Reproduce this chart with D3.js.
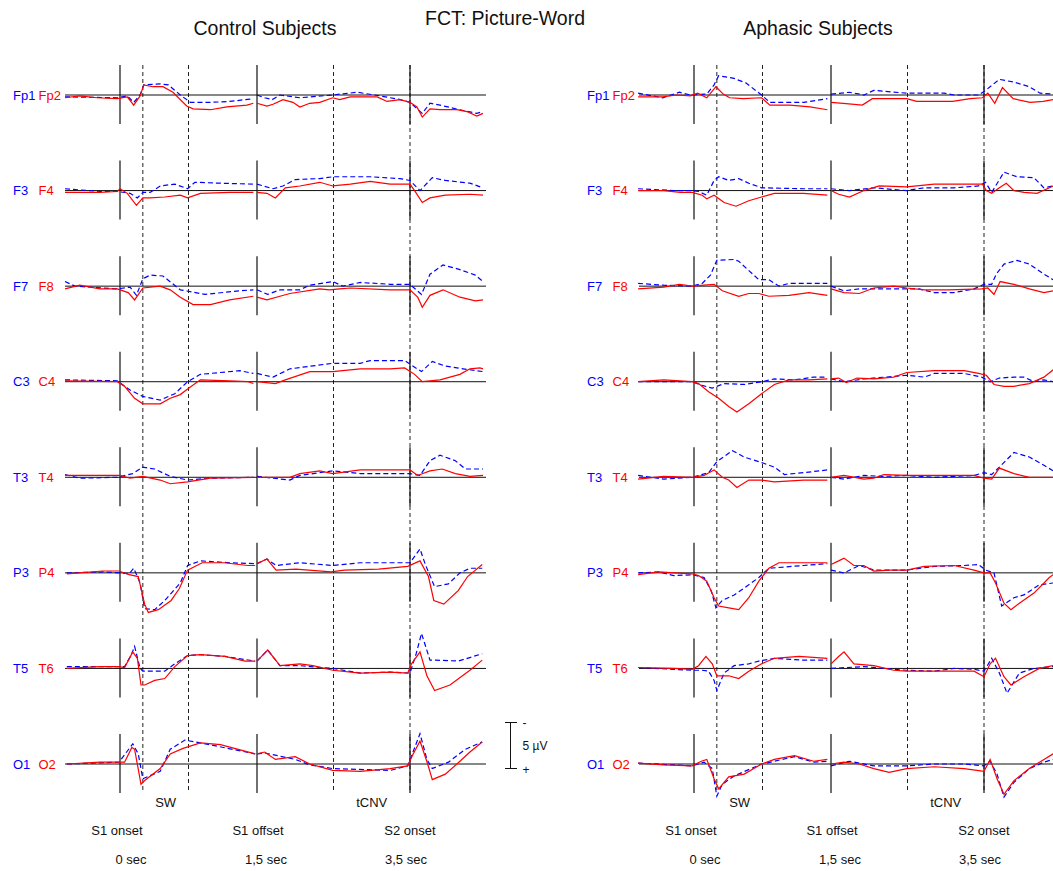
<!DOCTYPE html>
<html>
<head>
<meta charset="utf-8">
<script src="https://cdn.jsdelivr.net/npm/d3@7"></script>
<style>
  body { margin: 0; background: #fff; }
  text { font-family: "Liberation Sans", Arial, sans-serif; }
</style>
</head>
<body>
<div id="chart"></div>
<script>
// electrode pairs (left hemisphere = blue dashed, right = red solid)
const channels = [["Fp1", "Fp2"], ["F3", "F4"], ["F7", "F8"], ["C3", "C4"],
                  ["T3", "T4"], ["P3", "P4"], ["T5", "T6"], ["O1", "O2"]];

// event markers (seconds)
const solidEvents = [0, 1.5, 3.5];
const dashedEvents = [0.25, 0.75, 2.5, 3.5];
const windowLabels = [{t: 0.5, text: "SW"}, {t: 3.0, text: "tCNV"}];
const eventNames = ["S1 onset", "S1 offset", "S2 onset"];
const eventTimes = ["0 sec", "1,5 sec", "3,5 sec"];

// grand averages [time s, amplitude µV] - negative up
// Control subjects
const ctlFp1 = [[-0.6,0.2],[-0.03,0.3],[0.08,0.1],[0.15,0.8],[0.22,0],[0.26,-1.1],[0.44,-1.2],[0.53,-1.1],[0.66,0],[0.77,0.8],[0.99,0.8],[1.2,0.7],[1.46,0.4],
  [1.5,0],[1.6,0.3],[1.7,0.5],[1.8,0],[2.06,0.3],[2.49,0],[2.81,-0.3],[3.11,0.1],[3.37,0.5],[3.5,0.8],[3.66,2.0],[3.76,0.9],[3.89,1.1],[4.15,1.6],[4.37,2.0],[4.45,1.8]];
const ctlFp2 = [[-0.6,0.3],[-0.44,0.1],[-0.25,0.3],[-0.03,0.4],[0.08,0.2],[0.15,1.1],[0.22,0.1],[0.26,-1.1],[0.36,-0.9],[0.47,-0.9],[0.58,-0.3],[0.73,1.2],[0.8,1.5],[0.99,1.6],[1.17,1.3],[1.39,1.1],[1.46,0.9],
  [1.5,0.9],[1.63,1.2],[1.71,1.0],[1.84,0.5],[1.97,0.8],[2.06,1.3],[2.19,0.9],[2.32,0.8],[2.49,0.3],[2.58,0.5],[2.72,0.2],[3.07,0.2],[3.2,0.7],[3.37,0.5],[3.5,0.8],[3.59,1.3],[3.66,2.4],[3.76,1.5],[3.89,1.6],[4.11,1.6],[4.24,1.8],[4.37,2.3],[4.45,2.0]];
const ctlF3 = [[-0.6,-0.2],[-0.22,0.1],[-0.03,0.1],[0.11,0.3],[0.19,0.8],[0.25,0.2],[0.33,0.2],[0.44,-0.5],[0.6,-0.7],[0.74,-0.2],[0.82,-0.9],[1.1,-0.8],[1.46,-0.7],
  [1.5,-0.7],[1.71,-0.2],[1.84,-0.5],[2.0,-1.2],[2.32,-1.3],[2.49,-1.5],[2.98,-1.5],[3.37,-1.3],[3.5,-1.1],[3.63,0],[3.79,-1.4],[3.96,-1.1],[4.28,-0.8],[4.45,-0.3]];
const ctlF4 = [[-0.6,0.2],[-0.22,0.2],[-0.03,0.1],[0,-0.2],[0.08,0.3],[0.18,1.6],[0.25,0.8],[0.33,0.8],[0.49,0.7],[0.66,0.5],[0.74,0.8],[0.88,0.3],[1.2,0.2],[1.46,0.2],
  [1.5,0.2],[1.63,0.3],[1.74,0.8],[1.87,-0.3],[2.06,-0.5],[2.32,-0.9],[2.49,-0.5],[2.72,-0.7],[2.98,-1.0],[3.24,-0.7],[3.5,-0.7],[3.56,0],[3.66,1.3],[3.76,0.8],[3.96,0.5],[4.28,0.4],[4.45,0.5]];
const ctlF7 = [[-0.6,-0.5],[-0.49,0],[-0.03,0.3],[0.11,0.1],[0.18,1.0],[0.25,-0.8],[0.33,-1.2],[0.47,-1.1],[0.66,0.4],[0.93,0.9],[1.31,0.5],[1.46,0.4],
  [1.5,0.4],[1.64,0.9],[1.8,0.4],[2.06,0.4],[2.19,-0.1],[2.49,-0.5],[2.62,0],[2.85,-0.4],[3.24,-0.2],[3.5,-0.2],[3.65,0.9],[3.76,-1.3],[3.93,-2.3],[4.15,-1.8],[4.35,-1.2],[4.45,-0.5]];
const ctlF8 = [[-0.6,0.3],[-0.44,-0.1],[-0.22,0.3],[-0.03,0.3],[0.09,0.7],[0.16,1.5],[0.25,0.2],[0.44,0],[0.55,0.4],[0.66,1.2],[0.8,2.0],[0.99,2.0],[1.2,1.5],[1.46,1.1],
  [1.5,1.2],[1.63,1.5],[1.8,1.1],[1.93,0.8],[2.32,0.3],[2.45,0.4],[2.58,0.3],[2.72,0.2],[3.24,0.4],[3.5,0.4],[3.6,1.2],[3.66,2.3],[3.76,1.0],[3.93,0.4],[4.15,1.2],[4.35,1.6],[4.45,1.5]];
const ctlC3 = [[-0.6,-0.2],[-0.03,-0.1],[0.11,0.9],[0.25,1.6],[0.44,2.0],[0.6,1.3],[0.74,0],[0.88,-0.8],[1.31,-1.2],[1.46,-0.9],
  [1.5,-0.9],[1.71,-0.5],[1.93,-1.4],[2.49,-2.0],[2.85,-2.0],[2.98,-2.3],[3.43,-2.3],[3.52,-1.8],[3.65,-1.1],[3.79,-2.2],[3.96,-1.7],[4.19,-1.4],[4.45,-1.1]];
const ctlC4 = [[-0.6,-0.1],[-0.03,0],[0.05,0.5],[0.16,1.8],[0.25,2.4],[0.44,2.4],[0.55,1.8],[0.66,1.4],[0.74,0.8],[0.88,-0.2],[1.2,-0.1],[1.4,0],[1.46,0.2],
  [1.5,0],[1.74,0.2],[1.87,-0.2],[2.19,-1.1],[2.49,-1.1],[2.85,-1.4],[3.24,-1.4],[3.43,-1.5],[3.56,-0.8],[3.66,0],[3.89,-0.2],[4.15,-0.8],[4.28,-1.4],[4.41,-1.5],[4.45,-1.4]];
const ctlT3 = [[-0.6,-0.3],[-0.44,0.1],[-0.03,0],[0.14,-0.4],[0.25,-1.1],[0.38,-0.9],[0.55,-0.1],[0.74,0.3],[0.99,0.1],[1.46,0],
  [1.5,-0.1],[1.93,0.3],[2.06,-0.2],[2.49,-0.7],[2.85,-0.4],[3.5,-0.4],[3.63,-0.2],[3.76,-1.8],[3.89,-2.4],[4.09,-1.8],[4.22,-0.9],[4.45,-0.9]];
const ctlT4 = [[-0.6,-0.2],[0,-0.2],[0.11,0.1],[0.25,-0.1],[0.44,0.3],[0.55,0.7],[0.74,0.5],[0.99,0.1],[1.46,0],
  [1.5,0],[1.93,0],[2.06,-0.4],[2.32,-0.7],[2.49,-0.4],[2.85,-0.8],[3.5,-0.8],[3.6,-0.2],[3.76,-0.7],[3.92,-0.9],[4.09,-0.4],[4.28,-0.1],[4.45,-0.2]];
const ctlP3 = [[-0.58,0],[-0.19,-0.1],[-0.01,0],[0.1,0.1],[0.15,-0.5],[0.22,1.1],[0.27,3.9],[0.38,4.0],[0.49,3.0],[0.66,1.1],[0.74,-0.8],[0.88,-1.3],[1.2,-1.1],[1.48,-1.0],
  [1.5,-1.0],[1.63,-1.5],[1.75,-0.8],[2.06,-1.1],[2.49,-0.8],[2.85,-1.1],[3.5,-1.1],[3.63,-2.6],[3.7,-0.9],[3.82,1.5],[4.0,1.2],[4.15,0],[4.28,-0.5],[4.44,-0.5]];
const ctlP4 = [[-0.58,0.1],[-0.19,-0.2],[-0.01,-0.2],[0.1,0.2],[0.2,0.4],[0.27,3.4],[0.31,4.3],[0.42,4.0],[0.56,3.0],[0.65,1.7],[0.74,-0.3],[0.9,-1.1],[1.14,-1.1],[1.4,-0.8],[1.48,-0.8],
  [1.5,-1.0],[1.63,-1.5],[1.75,-0.3],[2.01,-0.4],[2.47,-0.1],[2.64,-0.3],[3.09,-0.4],[3.47,-0.7],[3.63,-1.3],[3.74,0.4],[3.81,3.0],[3.94,3.4],[4.13,1.9],[4.25,0.4],[4.44,-0.9]];
const ctlT5 = [[-0.58,-0.2],[-0.01,-0.2],[0.05,-0.2],[0.12,-1.4],[0.16,-2.4],[0.22,0],[0.25,0.3],[0.49,0.3],[0.6,-0.5],[0.74,-1.4],[0.88,-1.5],[1.15,-1.3],[1.48,-0.8],
  [1.5,-0.8],[1.64,-2.0],[1.8,-0.3],[2.06,-0.3],[2.49,0],[2.85,0.5],[3.24,0.4],[3.5,0.5],[3.58,-1.6],[3.65,-3.8],[3.76,-0.9],[3.84,-0.9],[4.13,-0.8],[4.44,-1.6]];
const ctlT6 = [[-0.58,0],[-0.22,-0.2],[-0.01,-0.2],[0.05,-0.1],[0.14,-1.8],[0.19,-1.1],[0.23,1.8],[0.27,1.8],[0.38,1.3],[0.49,1.1],[0.6,-0.2],[0.74,-1.4],[0.88,-1.5],[1.15,-1.3],[1.37,-0.8],[1.48,-0.8],
  [1.5,-0.8],[1.64,-2.0],[1.8,-0.3],[2.06,-0.5],[2.23,-0.3],[2.49,0.2],[2.85,0.5],[3.24,0.4],[3.47,0.5],[3.52,-0.5],[3.63,-1.8],[3.72,0.8],[3.82,2.4],[4.02,1.8],[4.28,0.2],[4.44,-0.9]];
const ctlO1 = [[-0.58,0],[-0.01,-0.2],[0.14,-2.2],[0.2,-1.1],[0.25,1.6],[0.44,0.8],[0.55,-1.6],[0.71,-2.6],[0.88,-2.3],[1.48,-1.1],
  [1.5,-1.1],[1.6,-1.2],[2.0,-0.5],[2.19,0.1],[2.49,0.5],[3.24,0.7],[3.47,0.2],[3.63,-3.3],[3.72,-0.5],[3.79,0.5],[4.0,-0.2],[4.22,-1.6],[4.44,-2.4]];
const ctlO2 = [[-0.58,0],[-0.22,-0.2],[-0.01,-0.2],[0.05,-0.2],[0.13,-1.8],[0.16,-1.6],[0.23,2.2],[0.27,1.8],[0.44,0.5],[0.55,-1.1],[0.69,-1.7],[0.88,-2.3],[1.1,-2.1],[1.48,-1.1],
  [1.5,-1.1],[1.6,-1.3],[1.74,-0.5],[2.0,-0.8],[2.19,0],[2.49,0.7],[2.85,0.8],[3.24,0.5],[3.47,0.2],[3.53,-0.9],[3.63,-2.5],[3.73,0],[3.79,1.7],[3.96,1.1],[4.15,-0.3],[4.28,-1.3],[4.44,-2.4]];

// Aphasic subjects
const aphFp1 = [[-0.61,-0.2],[-0.34,0.3],[-0.16,-0.3],[-0.04,0],[0.14,-0.1],[0.22,-1.1],[0.27,-2.1],[0.44,-1.8],[0.57,-1.3],[0.74,0],[0.83,0.8],[1.2,0.8],[1.46,0.4],
  [1.5,-0.1],[1.74,-0.3],[1.93,0],[2.06,-0.5],[2.49,-0.2],[2.98,-0.2],[3.11,0],[3.43,0],[3.52,-0.5],[3.7,-1.7],[3.89,-1.4],[4.09,-0.9],[4.23,-0.2],[4.4,-0.1]];
const aphFp2 = [[-0.61,0.2],[-0.34,0.2],[-0.19,0],[-0.04,0.1],[0.04,-0.2],[0.14,0.3],[0.24,-0.9],[0.32,-0.1],[0.39,0.3],[0.54,0.4],[0.74,0.3],[0.83,1.1],[1.05,1.1],[1.27,1.3],[1.46,1.6],
  [1.5,0.8],[1.66,0.9],[1.91,1.1],[2.04,0.4],[2.49,0.4],[2.62,0.7],[3.09,0.7],[3.32,0.4],[3.48,0.3],[3.55,-0.2],[3.64,0.9],[3.74,-0.8],[3.88,0.4],[4.1,0.8],[4.27,0.7],[4.4,0.5]];
const aphF3 = [[-0.61,-0.2],[-0.22,0],[-0.02,0],[0.05,0.1],[0.14,0.5],[0.22,-1.1],[0.27,-1.5],[0.38,-1.1],[0.49,-1.3],[0.6,-0.8],[0.74,-0.3],[1.2,-0.2],[1.46,-0.2],
  [1.5,-0.2],[1.74,0],[2.06,-0.3],[2.49,0],[2.72,-0.3],[3.11,-0.3],[3.43,-0.5],[3.52,-0.9],[3.6,0.2],[3.76,-2.0],[3.93,-1.5],[4.15,-1.4],[4.28,-0.3],[4.4,-0.5]];
const aphF4 = [[-0.61,0],[-0.33,0],[-0.15,0.2],[-0.02,0.2],[0.09,0.5],[0.14,0.9],[0.22,0.5],[0.33,1.3],[0.46,1.7],[0.6,1.1],[0.74,0.7],[0.88,0.3],[1.2,0.3],[1.46,0.5],
  [1.5,0],[1.6,0.4],[1.74,0.7],[1.93,0],[2.13,-0.5],[2.49,-0.4],[2.85,-0.7],[3.48,-0.7],[3.53,0],[3.6,0.3],[3.7,-0.3],[3.79,-0.8],[3.89,0],[4.02,0.2],[4.19,0.3],[4.4,-0.5]];
const aphF7 = [[-0.61,-0.3],[-0.33,-0.1],[-0.02,0],[0.09,-0.3],[0.18,-1.2],[0.25,-2.8],[0.44,-2.9],[0.49,-2.7],[0.71,-0.7],[0.82,-0.7],[0.93,0],[1.04,-0.3],[1.46,-0.3],
  [1.5,0],[1.67,0.5],[1.87,0.3],[2.49,0.3],[2.65,0.3],[2.85,0.7],[3.11,0.7],[3.37,0.3],[3.5,-0.2],[3.6,-0.2],[3.66,-1.3],[3.76,-2.4],[3.93,-2.8],[4.09,-2.4],[4.28,-1.3],[4.4,-0.7]];
const aphF8 = [[-0.61,0.3],[-0.33,0.1],[-0.16,-0.2],[-0.02,0],[0.11,-0.1],[0.22,-0.2],[0.31,0.5],[0.49,1.1],[0.6,0.8],[0.71,0.8],[0.82,1.1],[1.04,1.0],[1.26,0.7],[1.46,1.0],
  [1.5,0.3],[1.67,0.7],[1.87,0.8],[2.06,0.2],[2.32,0],[2.49,0.2],[2.72,0.4],[3.04,0.4],[3.47,0.3],[3.55,0.2],[3.63,0.9],[3.71,-0.5],[3.89,-0.2],[4.09,0.3],[4.28,0.7],[4.4,0.5]];
const aphC3 = [[-0.61,0],[-0.02,0],[0.09,0.4],[0.2,0.7],[0.33,0.2],[0.55,0.3],[0.74,0],[0.88,-0.3],[1.1,-0.2],[1.31,-0.5],[1.46,-0.5],
  [1.5,-0.3],[1.67,0],[1.93,-0.3],[2.49,-0.7],[2.72,-0.5],[2.85,-0.9],[3.24,-0.9],[3.47,-0.5],[3.58,0],[3.7,-0.4],[3.89,-0.5],[4.02,-0.5],[4.15,0],[4.28,-0.2],[4.4,0]];
const aphC4 = [[-0.61,0],[-0.33,-0.2],[-0.02,0],[0.05,0.2],[0.16,1.1],[0.27,1.8],[0.38,2.7],[0.47,3.3],[0.6,2.4],[0.74,1.3],[0.88,0.3],[1.04,-0.2],[1.26,-0.2],[1.46,-0.3],
  [1.5,-0.3],[1.6,-0.4],[1.7,0.1],[1.84,-0.4],[2.06,-0.3],[2.32,-0.5],[2.49,-1.0],[2.85,-1.2],[3.24,-1.2],[3.43,-0.9],[3.53,-0.7],[3.63,0.3],[3.76,0.5],[3.89,0.5],[4.09,0.2],[4.28,-0.5],[4.4,-1.3]];
const aphT3 = [[-0.61,-0.2],[-0.33,0.2],[-0.02,0],[0.16,-0.5],[0.25,-1.7],[0.42,-2.9],[0.55,-2.2],[0.74,-1.6],[0.88,-1.1],[0.99,-0.3],[1.2,-0.5],[1.46,-0.8],
  [1.5,0],[1.67,0.2],[1.93,-0.2],[2.19,-0.1],[2.49,-0.2],[2.85,0],[3.37,-0.2],[3.5,-0.5],[3.6,-0.3],[3.7,-1.1],[3.89,-2.7],[4.09,-2.2],[4.28,-1.3],[4.4,-0.7]];
const aphT4 = [[-0.61,0.2],[-0.33,-0.1],[-0.02,0],[0.11,-0.2],[0.22,-0.8],[0.31,0],[0.38,0.3],[0.47,1.1],[0.6,0.3],[0.74,0.3],[0.88,0.5],[1.2,0.3],[1.46,0.3],
  [1.5,0],[1.67,-0.2],[1.93,0.2],[2.06,0.1],[2.19,-0.3],[2.49,-0.2],[3.37,-0.2],[3.5,0.1],[3.6,0.2],[3.7,-1.0],[3.89,-0.4],[4.09,0],[4.4,0]];
const aphP3 = [[-0.61,0],[-0.38,-0.1],[-0.22,0.3],[-0.02,0.2],[0.11,0.5],[0.19,2.0],[0.24,3.8],[0.31,3.0],[0.44,2.4],[0.6,1.3],[0.71,0.5],[0.82,-0.5],[1.2,-0.8],[1.46,-1.0],
  [1.5,-0.3],[1.67,0],[1.87,-0.8],[2.06,-0.3],[2.49,-0.3],[2.85,-0.7],[3.24,-0.8],[3.43,-0.9],[3.52,-0.3],[3.63,0],[3.73,3.6],[3.89,2.7],[4.02,2.4],[4.22,1.3],[4.4,1.1]];
const aphP4 = [[-0.61,0.2],[-0.38,-0.1],[-0.22,0],[-0.02,0.1],[0.05,0.3],[0.14,0.9],[0.22,2.7],[0.27,3.6],[0.38,3.8],[0.49,4.0],[0.6,2.7],[0.71,0.9],[0.82,-0.5],[0.93,-1.1],[1.26,-1.1],[1.46,-1.1],
  [1.5,-0.9],[1.6,-1.3],[1.67,-1.6],[1.8,-0.8],[1.93,-0.8],[2.06,-0.2],[2.26,-0.3],[2.49,-0.3],[2.72,-0.7],[3.11,-0.8],[3.37,-0.3],[3.5,0],[3.58,0],[3.65,1.1],[3.76,3.3],[3.85,4.0],[3.96,3.3],[4.15,2.2],[4.35,0.5],[4.4,0.2]];
const aphT5 = [[-0.61,-0.1],[-0.22,0.1],[-0.02,0.2],[0.09,0.2],[0.16,0.3],[0.22,1.3],[0.25,2.4],[0.33,0.5],[0.44,-0.3],[0.6,-0.5],[0.71,-0.8],[0.88,-1.1],[1.2,-0.9],[1.46,-0.9],
  [1.5,0],[1.93,-0.2],[2.32,0.1],[2.49,0.2],[2.85,0.3],[3.11,0],[3.37,0.1],[3.5,0.3],[3.6,-1.1],[3.7,0.5],[3.8,2.7],[3.96,0.5],[4.15,0],[4.4,-0.2]];
const aphT6 = [[-0.61,-0.1],[-0.22,0],[-0.02,0.1],[0.05,-0.3],[0.13,-1.3],[0.2,-0.5],[0.25,0.8],[0.38,0.8],[0.49,1.1],[0.6,0.3],[0.74,-0.5],[0.88,-1.1],[1.15,-1.3],[1.46,-1.1],
  [1.5,-0.5],[1.6,-1.3],[1.67,-1.8],[1.8,-0.5],[2.06,-0.3],[2.32,0.2],[2.49,0.3],[2.98,0.3],[3.37,0.3],[3.5,0.9],[3.58,-0.5],[3.65,-1.1],[3.76,0.9],[3.85,1.8],[4.02,0.9],[4.22,0],[4.4,-0.3]];
const aphO1 = [[-0.61,-0.1],[-0.02,0.2],[0.11,-0.2],[0.2,0.5],[0.25,3.5],[0.31,2.2],[0.44,1.3],[0.74,0],[0.88,-0.3],[1.1,-0.8],[1.31,-0.2],[1.46,-0.3],
  [1.5,0.2],[1.74,-0.3],[2.06,0.2],[2.49,0.2],[2.85,0],[3.24,0],[3.5,0.2],[3.58,-0.3],[3.67,1.1],[3.76,3.6],[3.89,2.0],[4.09,0.5],[4.28,-0.2],[4.4,-0.5]];
const aphO2 = [[-0.61,-0.1],[-0.33,0.1],[-0.02,0.2],[0.08,-0.3],[0.14,-0.5],[0.22,1.6],[0.27,2.7],[0.38,1.4],[0.55,1.1],[0.74,0],[0.88,-0.5],[1.1,-0.9],[1.31,-0.3],[1.46,-0.5],
  [1.5,0],[1.67,-0.2],[1.87,0],[2.06,0.5],[2.26,0.9],[2.49,0.5],[2.85,0.3],[3.24,0.5],[3.5,0.8],[3.58,-0.5],[3.67,1.6],[3.76,3.3],[3.89,1.8],[4.09,0.5],[4.28,-0.5],[4.4,-1.1]];

const controlRows = [[ctlFp1, ctlFp2], [ctlF3, ctlF4], [ctlF7, ctlF8], [ctlC3, ctlC4],
                     [ctlT3, ctlT4], [ctlP3, ctlP4], [ctlT5, ctlT6], [ctlO1, ctlO2]];
const aphasicRows = [[aphFp1, aphFp2], [aphF3, aphF4], [aphF7, aphF8], [aphC3, aphC4],
                     [aphT3, aphT4], [aphP3, aphP4], [aphT5, aphT6], [aphO1, aphO2]];

const panels = [
  {title: "Control Subjects", titleX: 265, dx: 0, rows: controlRows},
  {title: "Aphasic Subjects", titleX: 818, dx: 574, rows: aphasicRows}
];

const width = 1053, height = 871;
const blue = "#0000ff", red = "#ff0000";

const svg = d3.select("#chart").append("svg")
    .attr("width", width)
    .attr("height", height);

// time axis is not continuous: the S1 segment and the S2 segment use different spacing
const x = d3.scaleLinear()
    .domain([-0.6, 0, 1.5, 3.5, 4.45])
    .range([65, 120, 257, 410, 483]);

const rowY = d3.scaleLinear().domain([0, 7]).range([95, 764]);
const amp = d3.scaleLinear().domain([0, 5]).range([0, 46]);   // µV -> px, positive down

const line = d3.line()
    .x(d => x(d[0]))
    .y(d => amp(d[1]));

// split a trace at the S1 offset break
const splitTrace = tr => [tr.filter(d => d[0] < 1.5), tr.filter(d => d[0] >= 1.5)];

svg.append("text")
    .attr("x", 505).attr("y", 25)
    .attr("text-anchor", "middle")
    .attr("font-size", 19.5)
    .attr("fill", "#111")
    .text("FCT: Picture-Word");

panels.forEach(p => {
  const g = svg.append("g").attr("transform", `translate(${p.dx},0)`);

  svg.append("text")
      .attr("x", p.titleX).attr("y", 35)
      .attr("text-anchor", "middle")
      .attr("font-size", 19.5)
      .attr("fill", "#111")
      .text(p.title);

  // dashed windows
  g.selectAll(".dash")
    .data(dashedEvents)
    .join("line")
      .attr("x1", d => x(d)).attr("x2", d => x(d))
      .attr("y1", rowY(0) - 30).attr("y2", rowY(7) + 29)
      .attr("stroke", "#222")
      .attr("stroke-width", 1)
      .attr("stroke-dasharray", "4,3");

  p.rows.forEach((pair, i) => {
    const row = g.append("g").attr("transform", `translate(0,${rowY(i)})`);

    row.append("line")
        .attr("x1", x(-0.6)).attr("x2", x(4.45) + 3)
        .attr("stroke", "#111").attr("stroke-width", 1);

    row.selectAll(".ev")
      .data(solidEvents)
      .join("line")
        .attr("x1", d => x(d)).attr("x2", d => x(d))
        .attr("y1", -30).attr("y2", 29)
        .attr("stroke", "#111").attr("stroke-width", 1.2);

    // blue (left) dashed, red (right) solid
    row.selectAll(".blue")
      .data(splitTrace(pair[0]))
      .join("path")
        .attr("d", line)
        .attr("fill", "none")
        .attr("stroke", blue)
        .attr("stroke-width", 1.2)
        .attr("stroke-dasharray", "5,3");

    row.selectAll(".red")
      .data(splitTrace(pair[1]))
      .join("path")
        .attr("d", line)
        .attr("fill", "none")
        .attr("stroke", red)
        .attr("stroke-width", 1.2);

    row.append("text")
        .attr("x", 13).attr("y", 4.5)
        .attr("font-size", 13)
        .attr("fill", blue)
        .text(channels[i][0]);
    row.append("text")
        .attr("x", 38.5).attr("y", 4.5)
        .attr("font-size", 13)
        .attr("fill", red)
        .text(channels[i][1]);
  });

  g.selectAll(".win")
    .data(windowLabels)
    .join("text")
      .attr("x", d => x(d.t)).attr("y", 807)
      .attr("text-anchor", "middle")
      .attr("font-size", 13)
      .attr("fill", "#111")
      .text(d => d.text);

  const nameDx = [-3, 1, 0], timeDx = [11, 9, -4];
  g.selectAll(".evname")
    .data(eventNames)
    .join("text")
      .attr("x", (d, i) => x(solidEvents[i]) + nameDx[i]).attr("y", 835)
      .attr("text-anchor", "middle")
      .attr("font-size", 13)
      .attr("fill", "#111")
      .text(d => d);

  g.selectAll(".evtime")
    .data(eventTimes)
    .join("text")
      .attr("x", (d, i) => x(solidEvents[i]) + timeDx[i]).attr("y", 864)
      .attr("text-anchor", "middle")
      .attr("font-size", 13)
      .attr("fill", "#111")
      .text(d => d);
});

// calibration bar 5 µV
const bar = svg.append("g").attr("transform", "translate(510.5,722.5)");
bar.append("line").attr("y1", 0).attr("y2", amp(5)).attr("stroke", "#111");
bar.selectAll(".tick")
  .data([0, 5])
  .join("line")
    .attr("x1", -5.5).attr("x2", 6.5)
    .attr("y1", d => amp(d)).attr("y2", d => amp(d))
    .attr("stroke", "#111");
bar.append("text").attr("x", 12).attr("y", 4).attr("font-size", 12).attr("fill", "#111").text("-");
bar.append("text").attr("x", 12).attr("y", amp(2.5) + 4).attr("font-size", 12).attr("fill", "#111").text("5 µV");
bar.append("text").attr("x", 12).attr("y", amp(5) + 5).attr("font-size", 12).attr("fill", "#111").text("+");
</script>
</body>
</html>
